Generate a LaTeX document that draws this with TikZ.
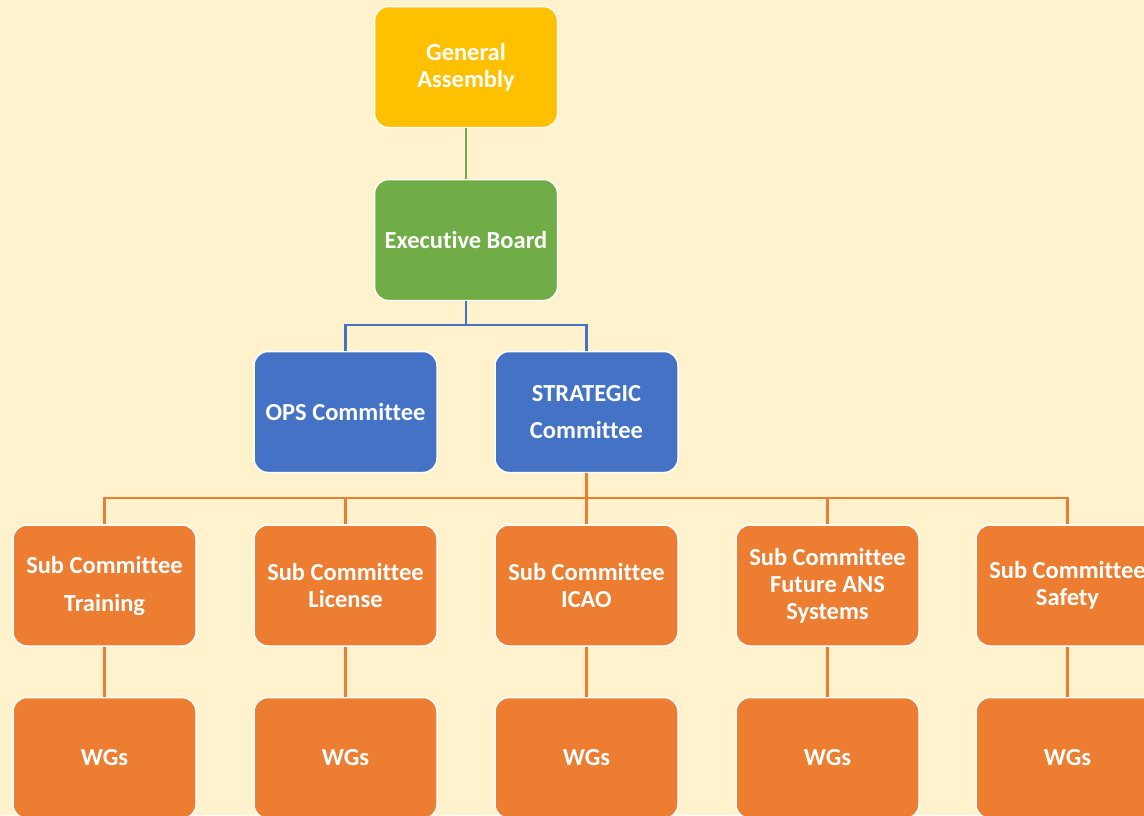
\documentclass[tikz,border=0pt]{standalone}
\usepackage{fontspec}
\setmainfont[Ligatures={NoCommon}]{Carlito}
\definecolor{bg}{HTML}{FFF2CC}
\definecolor{gold}{HTML}{FFC000}
\definecolor{grn}{HTML}{70AD47}
\definecolor{blu}{HTML}{4472C4}
\definecolor{org}{HTML}{ED7D31}
\begin{document}
\begin{tikzpicture}[x=1pt,y=-1pt,
  box/.style={rounded corners=14pt, draw=white, line width=1.5pt,
    minimum width=183pt, minimum height=121pt, inner sep=0pt, text=white,
    font=\bfseries\fontsize{24.5}{27}\selectfont, align=center},
  conn/.style={line width=2.5pt}]
\fill[bg] (0,0) rectangle (1144,815);
\useasboundingbox (0,0) rectangle (1144,815);
% nodes
\node[box, fill=gold] (ga) at (466,67) {General\\Assembly};
\node[box, fill=grn] (eb) at (466,240) {Executive Board};
\node[box, fill=blu] (ops) at (345.5,412) {OPS Committee};
\node[box, fill=blu] (st) at (586.5,412) {STRATEGIC\\[10pt]Committee};
\node[box, fill=org] (s1) at (104.5,585.5) {Sub Committee\\[11pt]Training};
\node[box, fill=org] (s2) at (345.5,585.5) {Sub Committee\\License};
\node[box, fill=org] (s3) at (586.5,585.5) {Sub Committee\\ICAO};
\node[box, fill=org] (s4) at (827.5,585.5) {Sub Committee\\Future ANS\\Systems};
\node[box, fill=org] (s5) at (1067.5,585.5) {Sub Committee\\Safety};
\node[box, fill=org] (w1) at (104.5,758) {WGs};
\node[box, fill=org] (w2) at (345.5,758) {WGs};
\node[box, fill=org] (w3) at (586.5,758) {WGs};
\node[box, fill=org] (w4) at (827.5,758) {WGs};
\node[box, fill=org] (w5) at (1067.5,758) {WGs};
% connectors
\coordinate (b1) at (466,325);
\coordinate (b2) at (586.5,498);
\draw[conn, grn] (ga.south) -- (eb.north);
\draw[conn, blu] (eb.south) -- (b1);
\draw[conn, blu] (b1) -| (ops.north);
\draw[conn, blu] (b1) -| (st.north);
\draw[conn, org] (st.south) -- (b2);
\foreach \s in {s1,s2,s3,s4,s5}{\draw[conn, org] (b2) -| (\s.north);}
\draw[conn, org] (s1.south) -- (w1.north);
\draw[conn, org] (s2.south) -- (w2.north);
\draw[conn, org] (s3.south) -- (w3.north);
\draw[conn, org] (s4.south) -- (w4.north);
\draw[conn, org] (s5.south) -- (w5.north);
\end{tikzpicture}
\end{document}
